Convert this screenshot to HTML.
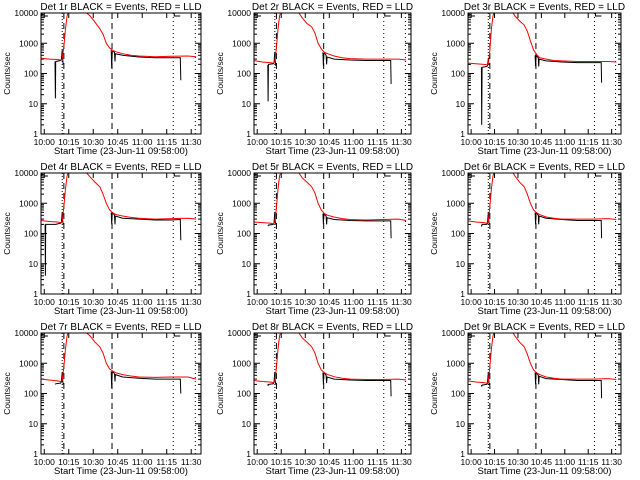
<!DOCTYPE html>
<html><head><meta charset="utf-8"><style>
html,body{margin:0;padding:0;background:#fff}
svg{display:block}
text{font-family:"Liberation Sans",sans-serif;fill:#000}
</style></head><body>
<svg id="chart" width="640" height="480" viewBox="0 0 640 480" xmlns="http://www.w3.org/2000/svg"></svg>
<script>
const redTimes=[0,5,10,12,13,14,15,16,17,26,28,30,33,36,38,40,42,44,46,50,55,60,70,80,90,95];
const blackTimes=[2.5,2.7,2.9,8.6,8.8,9.0,12,12.5,13,13.3,13.6,14,43,43.3,43.6,44,45,45.3,45.6,50,60,70,80,85,85.3,85.6];
const red1=[320,300,290,280,300,800,3000,8000,12000,12000,10000,8000,5000,3000,2000,1000,700,580,520,450,400,380,360,370,380,360];
const red2=[270,240,230,220,240,700,3000,8000,12000,12000,10000,7000,4500,3500,2200,1000,650,500,450,380,330,310,300,300,300,280];
const red3=[220,210,200,195,200,600,3000,8000,12000,12000,12000,8000,5500,4000,2500,1200,600,420,330,300,270,260,250,250,250,240];
const red4=[270,250,240,230,250,800,3000,8000,12000,12000,10000,7500,5000,3500,2000,1000,600,480,420,380,340,320,300,310,320,300];
const red5=[240,230,220,210,230,700,3000,8000,12000,12000,10000,7000,5000,3500,2200,1000,600,450,400,350,310,290,280,290,300,270];
const red6=[260,240,230,220,240,800,3000,8000,12000,12000,12000,8000,5000,3500,2000,1000,600,480,420,350,320,300,300,300,310,290];
const red7=[300,280,260,250,270,800,3000,8000,12000,12000,10000,8000,5000,3500,2200,1000,650,550,480,420,380,350,340,350,350,300];
const red8=[270,250,240,230,250,700,3000,8000,12000,12000,10000,7000,5000,3500,2200,1000,600,480,420,360,320,300,290,290,300,280];
const red9=[260,240,230,220,240,800,3000,8000,12000,12000,12000,8000,5000,3500,2000,1000,600,480,420,350,320,300,300,300,310,290];
const N=null;
const black1=[N,N,N,250,15,250,270,280,600,300,200,N,600,150,500,550,500,250,450,400,350,330,330,330,330,60];
const black2=[N,N,N,190,12,200,210,220,500,260,180,N,500,180,450,480,400,200,350,300,280,270,270,270,270,45];
const black3=[N,N,N,160,2,160,170,180,300,210,190,N,400,170,350,380,330,170,300,260,240,230,230,230,230,50];
const black4=[200,4,200,200,200,200,220,230,500,260,200,N,500,200,450,480,400,200,380,320,300,280,280,290,290,60];
const black5=[N,N,N,180,180,190,200,220,500,260,200,N,450,200,400,420,380,200,330,290,270,260,260,260,260,70];
const black6=[N,N,N,190,180,200,200,220,500,260,200,N,500,200,450,480,400,200,380,320,290,270,270,270,270,70];
const black7=[N,N,N,N,200,210,220,240,500,260,200,N,550,150,500,520,450,250,420,350,320,300,300,300,300,100];
const black8=[N,N,N,200,180,200,210,230,500,260,200,N,500,200,450,480,400,220,350,300,280,270,270,270,270,80];
const black9=[N,N,N,190,170,190,200,220,500,260,190,N,500,200,450,480,400,200,370,310,290,270,270,270,270,70];
const redSeries=[red1,red2,red3,red4,red5,red6,red7,red8,red9];
const blackSeries=[black1,black2,black3,black4,black5,black6,black7,black8,black9];
const yTickLabels=["1","10","100","1000","10000"];
const xTickLabels=["10:00","10:15","10:30","10:45","11:00","11:15","11:30"];
const markerTimes=[13,14,43.5,81,94.5];

const svg=document.getElementById('chart');
const NS='http://www.w3.org/2000/svg';
function mk(tag,attrs,parent){const e=document.createElementNS(NS,tag);for(const k in attrs)e.setAttribute(k,attrs[k]);(parent||svg).appendChild(e);return e;}
const cols=[[41,201],[254,411],[468,621]];
const rowsTop=[13,173,333];
const H=121, T0=0, T1=98;

for(let p=0;p<9;p++){
  const [x0,x1]=cols[p%3]; const y0=rowsTop[Math.floor(p/3)]; const y1=y0+H;
  const xs=t=>x0+(t-T0)/(T1-T0)*(x1-x0);
  const ys=v=>y1-Math.log10(v)/4*H;
  const g=mk('g',{});
  
  
  const cp=mk('clipPath',{id:'c'+p},g); mk('rect',{x:x0,y:y0,width:x1-x0,height:H},cp);
  const t=mk('text',{x:(x0+x1)/2,y:y0-3,'text-anchor':'middle','font-size':'10'},g);
  t.textContent='Det '+(p+1)+'r BLACK = Events, RED = LLD';
  
  
  const yl=mk('text',{x:0,y:0,'text-anchor':'middle','font-size':'8.5',transform:`translate(${x0-31},${(y0+y1)/2}) rotate(-90)`},g);
  yl.textContent='Counts/sec';
  
  
  const xl=mk('text',{x:(x0+x1)/2,y:y1+20,'text-anchor':'middle','font-size':'9.5'},g);
  xl.textContent='Start Time (23-Jun-11 09:58:00)';
  
  
  yTickLabels.forEach((lab,i)=>{
    const v=Math.pow(10,i), y=ys(v);
    mk('line',{x1:x0,x2:x0+6,y1:y,y2:y,stroke:'#000'},g);
    mk('line',{x1:x1,x2:x1-6,y1:y,y2:y,stroke:'#000'},g);
    const tx=mk('text',{x:x0-3,y:y+3,'text-anchor':'end','font-size':'8.5'},g);
    tx.textContent=lab;
    
    
    if(i<4) for(let m=2;m<10;m++){const ym=ys(v*m);
      mk('line',{x1:x0,x2:x0+3,y1:ym,y2:ym,stroke:'#000'},g);
      mk('line',{x1:x1,x2:x1-3,y1:ym,y2:ym,stroke:'#000'},g);}
  });
  xTickLabels.forEach((lab,i)=>{
    const tt=2+15*i, x=xs(tt);
    mk('line',{x1:x,x2:x,y1:y1,y2:y1-5,stroke:'#000'},g);
    mk('line',{x1:x,x2:x,y1:y0,y2:y0+5,stroke:'#000'},g);
    const tx=mk('text',{x:x,y:y1+11,'text-anchor':'middle','font-size':'8.5'},g);
    tx.textContent=lab;
    
    
  });
  const dashes=['1,2','6,4','6,4','1,3','1,3'];
  markerTimes.forEach((mt,i)=>{const x=xs(mt);
    const l=mk('line',{x1:x,x2:x,y1:y0,y2:y1,stroke:'#000','stroke-dasharray':dashes[i]},g);
    
    });
  mk('polyline',{points:`${x0+1},${y0} ${x0+1},${y0+3} ${x0+7},${y0+3}`,fill:'none',stroke:'#000'},g);
  const xm=xs(markerTimes[3])+1;
  mk('polyline',{points:`${xm},${y0} ${xm},${y0+3} ${xm+6},${y0+3}`,fill:'none',stroke:'#000'},g);
  const bv=blackSeries[p]; let segs=[],cur=[];
  blackTimes.forEach((tt,i)=>{const v=bv[i]; if(v==null){if(cur.length)segs.push(cur);cur=[];} else cur.push(xs(tt).toFixed(1)+','+ys(v).toFixed(1));});
  if(cur.length)segs.push(cur);
  segs.forEach(s=>{const pl=mk('polyline',{points:s.join(' '),fill:'none',stroke:'#000','stroke-width':'1','clip-path':`url(#c${p})`},g);
    
    });
  const rv=redSeries[p]; const pts=redTimes.map((tt,i)=>xs(tt).toFixed(1)+','+ys(rv[i]).toFixed(1));
  const rl=mk('polyline',{points:pts.join(' '),fill:'none',stroke:'#f00','stroke-width':'1','clip-path':`url(#c${p})`},g);
  
  
  const fr=mk('rect',{x:x0,y:y0,width:x1-x0,height:H,fill:'none',stroke:'#000'},g);
  
  
}
</script>
</body></html>
